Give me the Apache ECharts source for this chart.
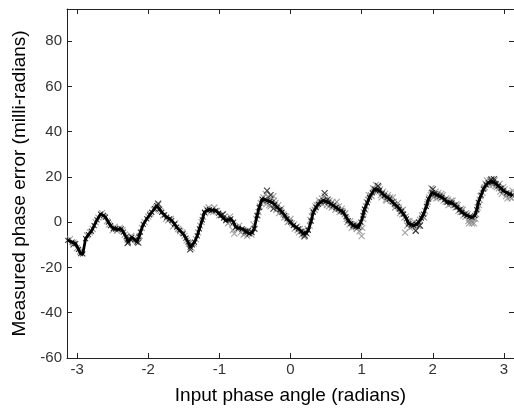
<!DOCTYPE html>
<html><head><meta charset="utf-8">
<script src="https://cdn.jsdelivr.net/npm/echarts@6/dist/echarts.min.js"></script>
<style>html,body{margin:0;padding:0;background:#fff}#c{width:514px;height:410px}</style>
</head><body><div id="c"></div>
<script>
const xTicks = [-3, -2, -1, 0, 1, 2, 3];
const yTicks = [-60, -40, -20, 0, 20, 40, 60, 80];

const curveX = [-3.13,-3.07,-3.02,-2.98,-2.95,-2.92,-2.88,-2.84,-2.80,-2.76,-2.72,-2.67,-2.63,-2.60,-2.56,-2.53,-2.49,-2.46,-2.42,-2.38,-2.35,-2.31,-2.28,-2.25,-2.23,-2.19,-2.16,-2.13,-2.11,-2.07,-2.02,-1.98,-1.95,-1.91,-1.88,-1.84,-1.81,-1.77,-1.74,-1.70,-1.67,-1.63,-1.60,-1.56,-1.51,-1.47,-1.44,-1.41,-1.38,-1.35,-1.31,-1.28,-1.24,-1.21,-1.17,-1.14,-1.10,-1.05,-1.01,-0.98,-0.94,-0.91,-0.87,-0.84,-0.80,-0.77,-0.73,-0.68,-0.63,-0.58,-0.54,-0.51,-0.47,-0.44,-0.40,-0.36,-0.33,-0.29,-0.26,-0.22,-0.19,-0.15,-0.12,-0.08,-0.05,0.00,0.04,0.08,0.11,0.15,0.18,0.22,0.25,0.29,0.32,0.36,0.39,0.43,0.46,0.50,0.53,0.57,0.60,0.64,0.67,0.71,0.74,0.78,0.81,0.85,0.88,0.92,0.95,0.99,1.02,1.04,1.08,1.11,1.15,1.18,1.22,1.25,1.29,1.32,1.36,1.39,1.43,1.46,1.50,1.53,1.56,1.59,1.63,1.66,1.70,1.73,1.77,1.80,1.84,1.87,1.91,1.94,1.99,2.03,2.06,2.10,2.13,2.17,2.20,2.24,2.27,2.31,2.34,2.38,2.41,2.45,2.48,2.52,2.55,2.59,2.62,2.64,2.68,2.71,2.75,2.78,2.82,2.85,2.89,2.92,2.96,2.99,3.04,3.08,3.12];
const curveY = [-8.0,-8.8,-9.5,-12.0,-13.9,-14.0,-7.3,-5.5,-4.0,-1.5,1.0,3.6,3.0,2.2,0.0,-1.5,-2.8,-2.9,-3.2,-2.9,-4.4,-6.5,-8.8,-7.5,-6.6,-7.8,-8.8,-6.5,-4.4,-1.0,1.5,3.2,4.4,6.0,7.3,5.8,4.4,3.2,2.2,1.5,0.7,-0.8,-2.2,-3.5,-5.1,-7.0,-8.8,-11.0,-10.0,-8.8,-6.0,-2.9,1.0,4.4,5.2,5.5,5.3,5.1,4.0,2.9,1.8,0.7,1.0,1.5,0.0,-2.2,-2.6,-2.9,-4.0,-5.1,-4.6,-2.9,2.9,6.5,10.2,10.0,9.5,9.2,8.8,7.8,6.6,5.5,4.4,3.0,1.5,0.0,-1.5,-2.2,-2.9,-4.0,-5.1,-4.8,-3.6,0.5,4.4,6.5,8.0,9.0,9.5,9.2,8.8,8.0,7.3,6.5,5.8,5.0,4.4,2.5,0.7,-0.5,-1.5,-2.0,-2.2,0.0,3.0,5.8,8.5,11.0,13.0,14.6,14.3,13.9,12.8,11.7,11.0,10.2,9.0,8.0,7.0,5.8,4.8,3.6,1.5,-0.7,-1.2,-1.5,-1.0,0.0,1.8,3.6,7.0,10.2,13.1,12.5,12.0,11.5,11.0,10.0,8.8,8.7,8.5,7.5,6.6,5.5,4.4,3.6,2.9,2.5,2.2,2.9,5.5,8.8,12.0,14.6,16.5,17.5,17.8,17.8,17.0,16.0,15.0,13.9,13.0,12.4,12.0];

const grayX = [-3.10,-3.00,-2.93,-2.86,-2.78,-2.70,-2.65,-2.58,-2.50,-2.44,-2.36,-2.29,-2.20,-2.12,-2.05,-1.97,-1.92,-1.86,-1.79,-1.72,-1.65,-1.62,-1.55,-1.49,-1.43,-1.39,-1.33,-1.27,-1.23,-1.18,-1.12,-1.07,-1.03,-0.96,-0.90,-0.86,-0.82,-0.79,-0.75,-0.70,-0.66,-0.61,-0.56,-0.52,-0.48,-0.45,-0.42,-0.38,-0.35,-0.31,-0.28,-0.24,-0.21,-0.17,-0.14,-0.10,-0.06,-0.02,0.02,0.06,0.10,0.13,0.16,0.19,0.23,0.27,0.30,0.34,0.37,0.41,0.44,0.48,0.51,0.55,0.58,0.62,0.65,0.69,0.72,0.76,0.79,0.83,0.86,0.90,0.93,0.97,1.00,1.01,1.03,1.06,1.09,1.13,1.16,1.20,1.24,1.27,1.30,1.34,1.37,1.41,1.44,1.48,1.51,1.55,1.58,1.61,1.62,1.65,1.68,1.72,1.76,1.79,1.82,1.86,1.89,1.93,1.97,1.98,2.01,2.05,2.08,2.12,2.15,2.19,2.22,2.26,2.29,2.33,2.36,2.40,2.43,2.47,2.50,2.53,2.55,2.58,2.61,2.63,2.66,2.70,2.73,2.76,2.80,2.84,2.87,2.90,2.94,2.97,3.01,3.05,3.09,3.12,
  -3.05,-2.96,-2.82,-2.74,-2.62,-2.55,-2.47,-2.40,-2.33,-2.24,-2.17,-2.09,-2.00,-1.89,-1.83,-1.75,-1.68,-1.58,-1.52,-1.46,-1.36,-1.30,-1.25,-1.20,-1.15,-1.09,-1.00,-0.93,-0.88,-0.85,-0.81,-0.72,-0.67,-0.64,-0.59,-0.55,-0.50,-0.46,-0.43,-0.39,-0.34,-0.30,-0.27,-0.23,-0.20,-0.16,-0.13,-0.09,-0.04,0.00,0.05,0.09,0.12,0.17,0.20,0.24,0.28,0.31,0.35,0.40,0.45,0.49,0.54,0.59,0.63,0.68,0.73,0.77,0.80,0.84,0.89,0.94,0.98,1.02,1.05,1.07,1.10,1.14,1.17,1.21,1.26,1.28,1.33,1.35,1.40,1.45,1.47,1.52,1.54,1.57,1.60,1.64,1.67,1.71,1.74,1.78,1.81,1.85,1.88,1.92,1.95,2.00,2.04,2.07,2.11,2.14,2.18,2.21,2.25,2.28,2.32,2.35,2.39,2.42,2.46,2.49,2.51,2.54,2.57,2.60,2.65,2.67,2.72,2.74,2.79,2.83,2.86,2.88,2.93,2.95,2.99,3.03,3.07,3.11];
const grayY = [-7.5,-11.5,-12.5,-5.8,-3.0,2.0,4.0,0.5,-3.5,-3.8,-3.5,-7.8,-7.0,-6.0,0.0,3.8,5.5,7.8,3.0,0.8,-1.8,-0.5,-4.0,-6.0,-9.5,-11.5,-7.5,-1.5,2.5,5.8,4.8,6.5,5.0,3.5,1.5,0.0,-1.0,-5.0,-3.0,-4.5,-5.5,-6.0,-4.0,-1.0,1.5,4.5,8.5,11.0,12.5,11.0,7.0,11.5,8.5,7.5,5.0,3.5,2.5,0.5,-0.5,-2.8,-3.5,-3.0,-5.5,-6.5,-5.0,-1.5,2.5,5.5,7.5,8.5,10.5,11.5,7.5,9.5,6.5,8.0,9.0,4.5,6.0,3.5,1.5,-1.0,-2.5,-1.0,-3.0,-4.0,-6.2,-2.5,4.5,7.0,10.0,12.0,15.0,16.5,15.5,12.0,13.5,10.0,12.0,9.5,11.0,7.5,8.5,5.0,5.5,-4.6,2.5,0.5,-2.5,-0.5,-3.6,-1.5,1.0,2.5,5.0,9.0,12.0,15.0,11.0,10.5,13.0,12.5,9.5,10.5,7.5,9.5,7.5,8.0,5.0,6.0,3.0,4.0,0.5,1.5,-0.5,-0.5,3.5,6.5,10.0,13.0,15.5,18.5,18.5,16.5,18.5,15.5,17.0,12.5,14.5,10.5,11.0,14.0,
  -9.0,-13.0,-4.5,0.0,2.5,-1.0,-2.0,-2.5,-5.5,-6.0,-8.0,-2.5,2.5,6.5,5.0,1.5,1.5,-3.0,-4.5,-8.0,-9.5,-4.5,0.0,4.0,6.5,4.5,3.0,2.5,-0.5,2.5,-3.5,-1.5,-3.5,-5.0,-3.5,-5.5,-3.0,3.0,7.0,9.0,8.0,7.5,10.5,9.5,5.5,4.0,6.0,2.0,0.0,1.5,-1.0,-2.0,-4.5,-4.0,-5.5,-3.0,1.0,5.0,7.0,9.5,8.0,10.0,7.0,9.0,5.5,7.0,5.0,4.0,0.0,0.5,-2.0,-1.0,-2.0,1.5,5.5,9.0,12.0,11.5,13.5,13.5,14.5,11.0,12.5,9.5,11.0,9.0,6.5,6.5,4.0,3.5,2.0,-1.5,0.5,-2.0,0.0,-0.5,-1.5,3.0,2.0,8.0,11.0,12.0,13.5,11.0,10.5,12.0,9.0,10.0,8.0,9.5,6.5,7.5,4.5,5.5,2.5,3.5,-0.5,0.5,1.5,1.5,7.5,11.5,15.0,17.0,16.5,19.0,17.0,16.0,15.0,13.5,15.5,11.5,13.0,10.5];

const darkX = [-3.05,-2.29,-2.14,-1.86,-1.41,-0.60,-0.33,-0.28,-0.24,0.48,0.52,0.93,1.23,1.76,1.82,2.00,2.82,2.86,-0.95,0.20];
const darkY = [-9.8,-9.2,-9.0,8.2,-12.0,-4.0,14.0,12.0,6.0,12.8,10.0,-1.5,16.0,-3.8,-1.5,14.5,18.8,19.0,3.5,-6.0];

const toPairs = (xs, ys) => xs.map((x, i) => [x, ys[i]]);
const X_SYM = 'path://M0,0L10,10M10,0L0,10';

const chart = echarts.init(document.getElementById('c'), null, {renderer: 'canvas'});
const axisLineStyle = {color: '#222', width: 1};
const labelFont = {fontFamily: 'Liberation Sans, Arial, sans-serif', fontSize: 15, color: '#333'};
chart.setOption({
  animation: false,
  backgroundColor: '#fff',
  grid: {left: 67, top: 9, width: 452, height: 354, containLabel: false},
  xAxis: [{
    type: 'value', min: -Math.PI, max: Math.PI, position: 'bottom',
    axisLine: {show: true, onZero: false, lineStyle: axisLineStyle},
    axisTick: {show: true, inside: true, length: 5, customValues: xTicks, lineStyle: axisLineStyle},
    axisLabel: Object.assign({show: true, margin: 4, customValues: xTicks, formatter: v => String(v)}, labelFont),
    splitLine: {show: false},
    name: 'Input phase angle (radians)', nameLocation: 'middle', nameGap: 28,
    nameTextStyle: {fontFamily: 'Liberation Sans, Arial, sans-serif', fontSize: 19, color: '#000'}
  }, {
    type: 'value', min: -Math.PI, max: Math.PI, position: 'top',
    axisLine: {show: true, onZero: false, lineStyle: axisLineStyle},
    axisTick: {show: true, inside: true, length: 5, customValues: xTicks, lineStyle: axisLineStyle},
    axisLabel: {show: false}, splitLine: {show: false}
  }],
  yAxis: [{
    type: 'value', min: -60, max: 94.2, position: 'left',
    axisLine: {show: true, onZero: false, lineStyle: axisLineStyle},
    axisTick: {show: true, inside: true, length: 5, customValues: yTicks, lineStyle: axisLineStyle},
    axisLabel: Object.assign({show: true, margin: 5, customValues: yTicks, formatter: v => String(v)}, labelFont),
    splitLine: {show: false},
    name: 'Measured phase error (milli-radians)', nameLocation: 'middle', nameGap: 32, nameRotate: 90,
    nameTextStyle: {fontFamily: 'Liberation Sans, Arial, sans-serif', fontSize: 19, color: '#000'}
  }, {
    type: 'value', min: -60, max: 94.2, position: 'right',
    axisLine: {show: true, onZero: false, lineStyle: axisLineStyle},
    axisTick: {show: true, inside: true, length: 5, customValues: yTicks, lineStyle: axisLineStyle},
    axisLabel: {show: false}, splitLine: {show: false}
  }],
  series: [{
    type: 'scatter', data: toPairs(grayX, grayY), symbol: X_SYM, symbolSize: 6,
    itemStyle: {color: 'transparent', borderColor: '#8c8c8c', borderWidth: 1.1}, z: 2
  }, {
    type: 'scatter', data: toPairs(curveX, curveY), symbol: X_SYM, symbolSize: 5,
    itemStyle: {color: 'transparent', borderColor: '#000', borderWidth: 1.1}, z: 3
  }, {
    type: 'scatter', data: toPairs(darkX, darkY), symbol: X_SYM, symbolSize: 6,
    itemStyle: {color: 'transparent', borderColor: '#111', borderWidth: 1.1}, z: 3
  }, {
    type: 'line', data: toPairs(curveX, curveY), showSymbol: false, symbol: 'none',
    lineStyle: {color: '#000', width: 2.8}, z: 4
  }]
});
</script></body></html>
